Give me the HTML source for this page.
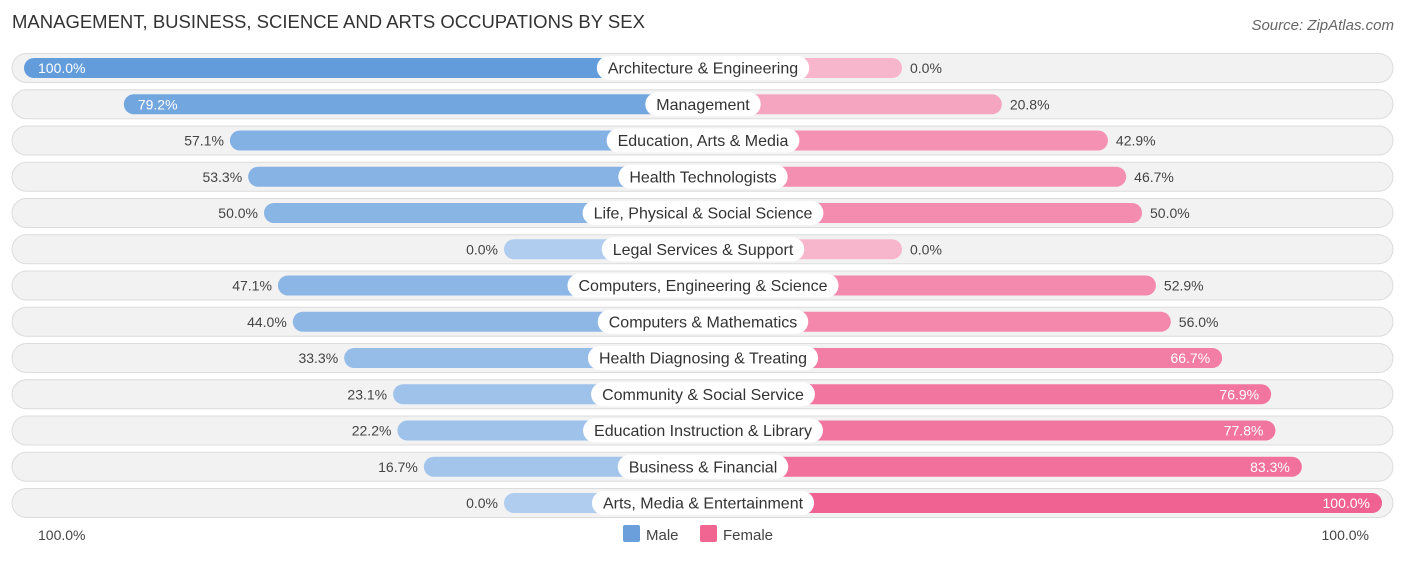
<!DOCTYPE html>
<html><head><meta charset="utf-8"><style>
body{margin:0;background:#fff;font-family:"Liberation Sans",sans-serif;}
svg text{font-family:"Liberation Sans",sans-serif;}
</style></head><body>
<svg id="c" width="1406" height="559" xmlns="http://www.w3.org/2000/svg">
<text x="12" y="28" font-size="18.5" fill="#333">MANAGEMENT, BUSINESS, SCIENCE AND ARTS OCCUPATIONS BY SEX</text>
<text x="1394" y="30" font-size="15" fill="#666" font-style="italic" text-anchor="end">Source: ZipAtlas.com</text>
<text x="38" y="540" font-size="14" fill="#444">100.0%</text>
<text x="1369" y="540" font-size="14" fill="#444" text-anchor="end">100.0%</text>
<rect x="623" y="525" width="17" height="17" rx="2" fill="#6a9fdc"/>
<text x="646" y="540" font-size="15" fill="#444">Male</text>
<rect x="700" y="525" width="17" height="17" rx="2" fill="#f06592"/>
<text x="723" y="540" font-size="15" fill="#444">Female</text>
<g id="rows"></g>
</svg>
<script>
const categories=["Architecture & Engineering","Management","Education, Arts & Media","Health Technologists","Life, Physical & Social Science","Legal Services & Support","Computers, Engineering & Science","Computers & Mathematics","Health Diagnosing & Treating","Community & Social Service","Education Instruction & Library","Business & Financial","Arts, Media & Entertainment"];
const maleValues=[100.0,79.2,57.1,53.3,50.0,0.0,47.1,44.0,33.3,23.1,22.2,16.7,0.0];
const femaleValues=[0.0,20.8,42.9,46.7,50.0,0.0,52.9,56.0,66.7,76.9,77.8,83.3,100.0];
const NS="http://www.w3.org/2000/svg";
const g=document.getElementById('rows');
const cx=703, stub=199, span=480, y0=68, dy=36.25;
function xm(v){return cx-stub-v/100*span;}
function xf(v){return cx+stub+v/100*span;}
function mix(a,b,t){return 'rgb('+a.map((c,i)=>Math.round(c+(b[i]-c)*t)).join(',')+')';}
function mk(tag,attrs){const e=document.createElementNS(NS,tag);for(const k in attrs)e.setAttribute(k,attrs[k]);g.appendChild(e);return e;}
categories.forEach((cat,i)=>{
  const y=y0+i*dy;
  const bg=mk('rect',{x:12,y:y-14.5,width:1381,height:29,rx:14.5,fill:'#f2f2f2',stroke:'#dcdcdc'});
  
  
  const m=maleValues[i], f=femaleValues[i];
  const mb=mk('rect',{x:xm(m),y:y-10,width:cx-xm(m),height:20,rx:10,fill:mix([176,205,239],[98,156,219],m/100)});
  
  
  const fb=mk('rect',{x:cx,y:y-10,width:xf(f)-cx,height:20,rx:10,fill:mix([248,182,204],[240,98,146],f/100)});
  
  
  const lt=mk('text',{x:cx,y:y+5.5,'font-size':16,fill:'#333','text-anchor':'middle'});
  lt.textContent=cat;
  
  
  const w=lt.getComputedTextLength()+22;
  const lb=mk('rect',{x:cx-w/2,y:y-12,width:w,height:24,rx:12,fill:'#fff'});
  
  
  g.appendChild(lt);
  const mIn=m>=60;
  const mt=mk('text',{x:mIn?xm(m)+14:xm(m)-6,y:y+5,'font-size':14,fill:mIn?'#fff':'#444','text-anchor':mIn?'start':'end'});
  mt.textContent=m.toFixed(1)+'%';
  
  
  const fIn=f>=60;
  const ft=mk('text',{x:fIn?xf(f)-12:xf(f)+8,y:y+5,'font-size':14,fill:fIn?'#fff':'#444','text-anchor':fIn?'end':'start'});
  ft.textContent=f.toFixed(1)+'%';
  
  
});
</script>
</body></html>
